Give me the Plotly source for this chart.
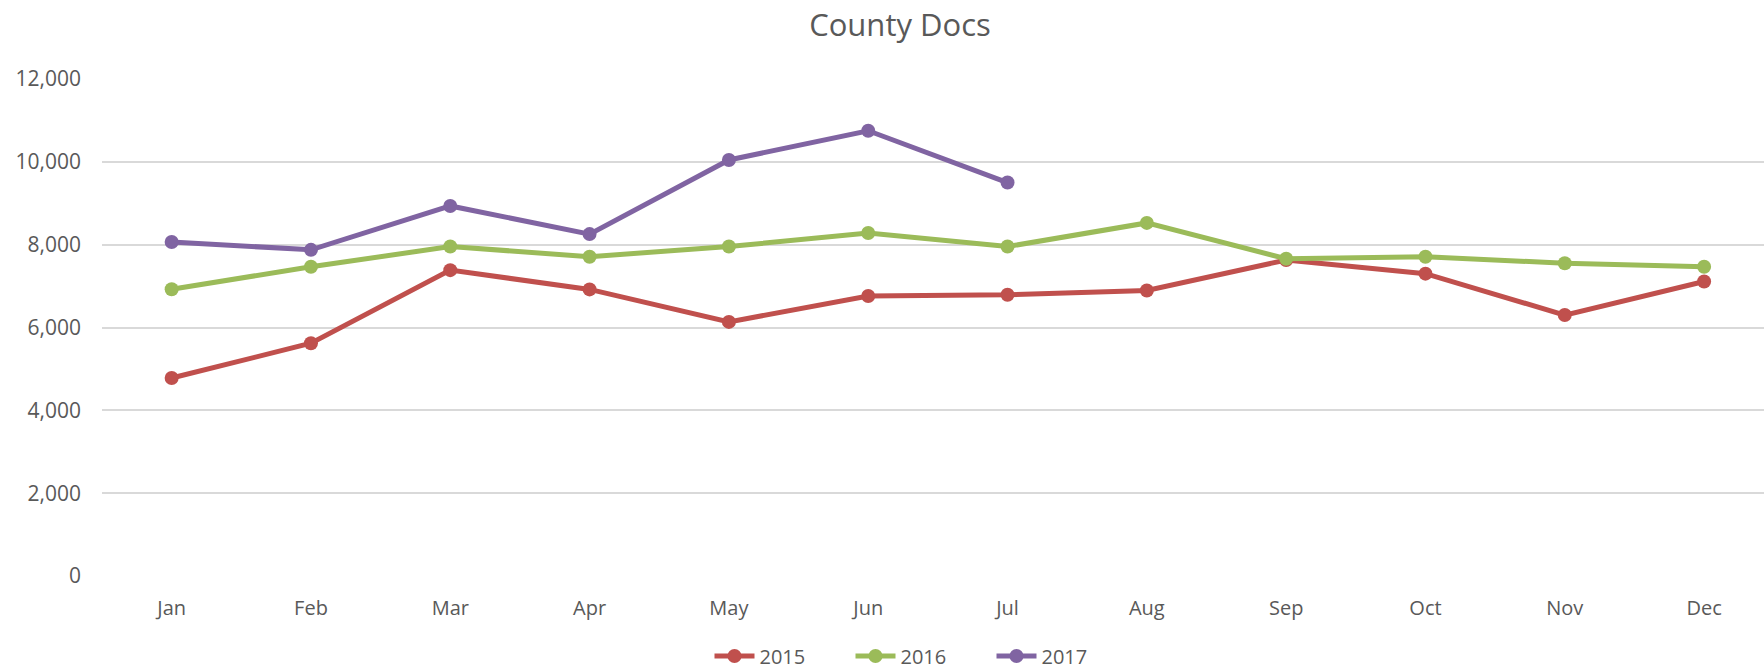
import plotly.graph_objects as go

months = ["Jan", "Feb", "Mar", "Apr", "May", "Jun", "Jul", "Aug", "Sep", "Oct", "Nov", "Dec"]
s2015 = [4780, 5620, 7385, 6920, 6135, 6760, 6790, 6895, 7630, 7300, 6300, 7110]
s2016 = [6925, 7465, 7955, 7710, 7955, 8280, 7955, 8525, 7660, 7710, 7550, 7465]
s2017 = [8065, 7875, 8935, 8255, 10045, 10750, 9500]
series_names = ["2015", "2016", "2017"]
colors = ["#C0504D", "#9BBB59", "#8064A2"]

W, H = 1764, 671
L, R, T, B = 102, 0, 79, 95
font = "Open Sans"
txt = "#595959"

fig = go.Figure()
for name, vals, c in zip(series_names, [s2015, s2016, s2017], colors):
    fig.add_trace(go.Scatter(
        x=months[:len(vals)], y=vals, name=name, mode="lines+markers",
        line=dict(color=c, width=5),
        marker=dict(color=c, size=14),
    ))

fig.update_layout(
    width=W, height=H,
    margin=dict(l=L, r=R, t=T, b=B, autoexpand=False),
    paper_bgcolor="white", plot_bgcolor="white",
    font=dict(family=font, color=txt),
    title=dict(text="County Docs", x=(900 - L) / (W - L - R), xref="paper", xanchor="center",
               y=1 - 25 / H, yanchor="middle", font=dict(size=31, color=txt, family=font)),
    showlegend=True,
    legend=dict(orientation="h", x=(921 - L) / (W - L - R), xanchor="center",
                y=-(656 - (H - B)) / (H - T - B), yanchor="middle",
                font=dict(size=20, color=txt), itemwidth=40, traceorder="normal",
                entrywidth=86, entrywidthmode="pixels", tracegroupgap=0),
    xaxis=dict(type="category", categoryorder="array", categoryarray=months,
               range=[-0.5, 11.43], showgrid=False, zeroline=False, showline=False,
               automargin=False,
               tickfont=dict(size=20, color=txt), ticks="", ticklabelstandoff=18),
    yaxis=dict(range=[0, 12000], dtick=2000, tickformat=",", showgrid=True,
               gridcolor="#D9D9D9", gridwidth=2, zeroline=False, showline=False,
               automargin=False,
               tickfont=dict(size=21, color=txt), ticks="", ticklabelstandoff=20),
)
fig.write_html("out.html", config={"displayModeBar": False},
               post_script="document.body.style.margin='0';document.body.style.overflow='hidden';")
